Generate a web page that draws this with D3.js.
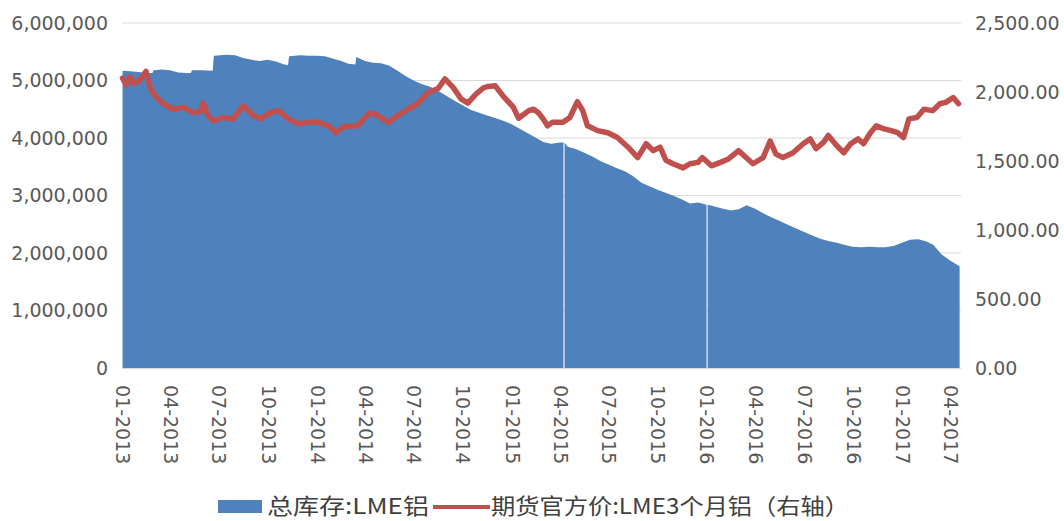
<!DOCTYPE html>
<html>
<head>
<meta charset="utf-8">
<script src="https://cdn.jsdelivr.net/npm/d3@7.9.0/dist/d3.min.js"></script>
<style>
  html, body { margin: 0; padding: 0; background: #fff; }
  svg { display: block; }
  .axis text { font-family: "DejaVu Sans", sans-serif; font-size: 19px; fill: #595959; }
  .legend text { font-family: "Noto Sans CJK SC", sans-serif; font-size: 22px; fill: #404040; }
</style>
</head>
<body>
<div id="chart"></div>
<script>
/* ---------- data ---------- */
// LME aluminium total stock, tonnes (left axis)
const stockSeries = [
  ["2013-01-02", 5170000], ["2013-01-16", 5160000], ["2013-02-01", 5150000], ["2013-02-16", 5130000],
  ["2013-02-27", 5130000], ["2013-03-01", 5180000], ["2013-03-16", 5190000], ["2013-04-01", 5180000],
  ["2013-04-16", 5140000], ["2013-05-01", 5130000], ["2013-05-10", 5130000], ["2013-05-12", 5180000],
  ["2013-06-01", 5180000], ["2013-06-20", 5170000], ["2013-06-22", 5430000], ["2013-07-16", 5450000],
  ["2013-08-01", 5440000], ["2013-08-16", 5390000], ["2013-09-01", 5360000], ["2013-09-16", 5340000],
  ["2013-10-01", 5360000], ["2013-10-16", 5330000], ["2013-11-01", 5280000], ["2013-11-08", 5270000],
  ["2013-11-10", 5420000], ["2013-12-01", 5440000], ["2013-12-16", 5430000], ["2014-01-01", 5430000],
  ["2014-01-16", 5420000], ["2014-02-01", 5380000], ["2014-02-16", 5340000], ["2014-03-01", 5290000],
  ["2014-03-14", 5280000], ["2014-03-16", 5410000], ["2014-04-01", 5340000], ["2014-04-16", 5310000],
  ["2014-05-01", 5300000], ["2014-05-16", 5260000], ["2014-06-01", 5170000], ["2014-06-16", 5080000],
  ["2014-07-01", 5000000], ["2014-07-16", 4940000], ["2014-08-01", 4890000], ["2014-08-16", 4820000],
  ["2014-09-01", 4730000], ["2014-09-16", 4650000], ["2014-10-01", 4570000], ["2014-10-16", 4490000],
  ["2014-11-01", 4440000], ["2014-11-16", 4390000], ["2014-12-01", 4350000], ["2014-12-16", 4300000],
  ["2015-01-01", 4240000], ["2015-01-16", 4160000], ["2015-02-01", 4080000], ["2015-02-16", 4000000],
  ["2015-03-01", 3930000], ["2015-03-16", 3900000], ["2015-04-01", 3920000], ["2015-04-16", 3850000],
  ["2015-05-01", 3810000], ["2015-05-16", 3750000], ["2015-06-01", 3680000], ["2015-06-16", 3600000],
  ["2015-07-01", 3540000], ["2015-07-16", 3480000], ["2015-08-01", 3420000], ["2015-08-16", 3340000],
  ["2015-09-01", 3220000], ["2015-09-16", 3160000], ["2015-10-01", 3100000], ["2015-10-16", 3050000],
  ["2015-11-01", 2990000], ["2015-11-16", 2930000], ["2015-12-01", 2860000], ["2015-12-16", 2880000],
  ["2016-01-01", 2840000], ["2016-01-16", 2810000], ["2016-02-01", 2770000], ["2016-02-16", 2740000],
  ["2016-03-01", 2760000], ["2016-03-16", 2830000], ["2016-04-01", 2770000], ["2016-04-16", 2690000],
  ["2016-05-01", 2620000], ["2016-05-16", 2560000], ["2016-06-01", 2490000], ["2016-06-16", 2430000],
  ["2016-07-01", 2370000], ["2016-07-16", 2310000], ["2016-08-01", 2250000], ["2016-08-16", 2210000],
  ["2016-09-01", 2180000], ["2016-09-16", 2140000], ["2016-10-01", 2110000], ["2016-10-16", 2100000],
  ["2016-11-01", 2110000], ["2016-11-16", 2100000], ["2016-12-01", 2100000], ["2016-12-16", 2120000],
  ["2017-01-01", 2180000], ["2017-01-16", 2230000], ["2017-02-01", 2240000], ["2017-02-16", 2200000],
  ["2017-03-01", 2140000], ["2017-03-16", 1980000], ["2017-04-01", 1870000], ["2017-04-19", 1770000]
];

// days with no stock figure (show as thin white gaps)
const gapDates = ["2015-04-08", "2016-01-01"];

// LME 3-month aluminium official price, USD/t (right axis)
const priceSeries = [
  ["2013-01-02", 2100], ["2013-01-09", 2050], ["2013-01-16", 2110], ["2013-01-24", 2060],
  ["2013-02-02", 2080], ["2013-02-15", 2150], ["2013-02-22", 2040], ["2013-03-01", 1985],
  ["2013-03-18", 1920], ["2013-04-07", 1875], ["2013-04-25", 1890], ["2013-05-14", 1850],
  ["2013-05-28", 1860], ["2013-06-02", 1920], ["2013-06-11", 1830], ["2013-06-21", 1790],
  ["2013-07-09", 1815], ["2013-07-28", 1805], ["2013-08-16", 1900], ["2013-09-04", 1830],
  ["2013-09-17", 1805], ["2013-10-06", 1850], ["2013-10-21", 1865], ["2013-11-09", 1805],
  ["2013-11-28", 1770], ["2013-12-16", 1780], ["2014-01-04", 1780], ["2014-01-23", 1755],
  ["2014-02-06", 1705], ["2014-02-20", 1750], ["2014-03-18", 1755], ["2014-04-10", 1850],
  ["2014-04-25", 1830], ["2014-05-14", 1780], ["2014-06-02", 1830], ["2014-06-21", 1875],
  ["2014-07-09", 1915], ["2014-07-28", 1995], ["2014-08-16", 2025], ["2014-08-29", 2095],
  ["2014-09-14", 2030], ["2014-09-28", 1950], ["2014-10-11", 1920], ["2014-10-26", 1985],
  ["2014-11-09", 2030], ["2014-11-18", 2040], ["2014-12-01", 2045], ["2014-12-16", 1970],
  ["2015-01-04", 1890], ["2015-01-14", 1810], ["2015-02-02", 1865], ["2015-02-11", 1875],
  ["2015-02-20", 1850], ["2015-03-01", 1805], ["2015-03-09", 1755], ["2015-03-18", 1780],
  ["2015-04-07", 1780], ["2015-04-20", 1815], ["2015-05-04", 1930], ["2015-05-14", 1865],
  ["2015-05-23", 1755], ["2015-06-11", 1720], ["2015-06-30", 1705], ["2015-07-18", 1670],
  ["2015-08-07", 1600], ["2015-08-25", 1525], ["2015-09-10", 1625], ["2015-09-23", 1575],
  ["2015-10-06", 1600], ["2015-10-17", 1505], ["2015-10-30", 1480], ["2015-11-18", 1450],
  ["2015-12-01", 1480], ["2015-12-16", 1490], ["2015-12-24", 1525], ["2016-01-10", 1465],
  ["2016-01-27", 1490], ["2016-02-11", 1515], ["2016-03-01", 1575], ["2016-03-15", 1525],
  ["2016-03-28", 1480], ["2016-04-16", 1525], ["2016-04-29", 1645], ["2016-05-10", 1550],
  ["2016-05-23", 1525], ["2016-06-11", 1560], ["2016-06-30", 1625], ["2016-07-13", 1660],
  ["2016-07-24", 1590], ["2016-08-07", 1635], ["2016-08-16", 1685], ["2016-09-01", 1610],
  ["2016-09-14", 1560], ["2016-09-27", 1625], ["2016-10-11", 1660], ["2016-10-21", 1625],
  ["2016-11-03", 1705], ["2016-11-14", 1755], ["2016-11-27", 1735], ["2016-12-12", 1720],
  ["2016-12-24", 1705], ["2017-01-04", 1670], ["2017-01-14", 1805], ["2017-01-29", 1815],
  ["2017-02-11", 1875], ["2017-02-28", 1865], ["2017-03-13", 1915], ["2017-03-24", 1925],
  ["2017-04-07", 1960], ["2017-04-17", 1915]
];

// quarterly category labels on the x axis
const tickMonths = [
  "2013-01-01", "2013-04-01", "2013-07-01", "2013-10-01",
  "2014-01-01", "2014-04-01", "2014-07-01", "2014-10-01",
  "2015-01-01", "2015-04-01", "2015-07-01", "2015-10-01",
  "2016-01-01", "2016-04-01", "2016-07-01", "2016-10-01",
  "2017-01-01", "2017-04-01"
];
const leftTicks = [0, 1000000, 2000000, 3000000, 4000000, 5000000, 6000000];
const rightTicks = [0, 500, 1000, 1500, 2000, 2500];
const seriesNames = ["总库存:LME铝", "期货官方价:LME3个月铝（右轴）"];

/* ---------- layout ---------- */
const W = 1064, H = 521;
const plot = { left: 122, right: 961, top: 23, bottom: 368 };
const blue = "#4F81BD", red = "#C0504D";

const parse = d3.timeParse("%Y-%m-%d");
const stock = stockSeries.map(([d, v]) => ({ date: parse(d), v, k: -1 }));
const price = priceSeries.map(([d, v]) => ({ date: parse(d), v }));

// put the gaps into the stock series: drop to zero for two days
gapDates.forEach(g => {
  const d0 = parse(g), d1 = d3.timeDay.offset(d0, 2);
  const prev = stock.filter(p => p.date <= d0 && p.k === -1).pop();
  stock.push({ date: d0, v: prev.v, k: 0 }, { date: d0, v: 0, k: 1 },
             { date: d1, v: 0, k: 2 }, { date: d1, v: prev.v, k: 3 });
});
stock.sort((a, b) => (a.date - b.date) || (a.k - b.k));

const x = d3.scaleTime()
  .domain([parse("2013-01-01"), parse("2017-04-01")])
  .range([plot.left, 950]);
const yL = d3.scaleLinear().domain([0, 6000000]).range([plot.bottom, plot.top]);
const yR = d3.scaleLinear().domain([0, 2500]).range([plot.bottom, plot.top]);

const svg = d3.select("#chart").append("svg")
  .attr("width", W).attr("height", H);

/* gridlines */
svg.append("g")
  .selectAll("line")
  .data(leftTicks.slice(1))
  .join("line")
  .attr("x1", plot.left).attr("x2", plot.right)
  .attr("y1", d => yL(d)).attr("y2", d => yL(d))
  .attr("stroke", "#d9d9d9").attr("stroke-width", 1.2);

/* stock area */
svg.append("path")
  .datum(stock)
  .attr("fill", blue)
  .attr("d", d3.area()
    .x(d => x(d.date))
    .y0(yL(0))
    .y1(d => yL(d.v)));

/* bottom axis line */
svg.append("line")
  .attr("x1", plot.left).attr("x2", plot.right)
  .attr("y1", plot.bottom + 0.5).attr("y2", plot.bottom + 0.5)
  .attr("stroke", "#d9d9d9");

/* price line */
svg.append("path")
  .datum(price)
  .attr("fill", "none")
  .attr("stroke", red)
  .attr("stroke-width", 5.5)
  .attr("stroke-linejoin", "round")
  .attr("stroke-linecap", "round")
  .attr("d", d3.line().x(d => x(d.date)).y(d => yR(d.v)));

/* axes */
const gl = svg.append("g").attr("class", "axis")
  .attr("transform", `translate(${plot.left},0)`)
  .call(d3.axisLeft(yL).tickValues(leftTicks).tickFormat(d3.format(",")).tickSize(0).tickPadding(14));
gl.select(".domain").remove();

const gr = svg.append("g").attr("class", "axis")
  .attr("transform", `translate(${plot.right},0)`)
  .call(d3.axisRight(yR).tickValues(rightTicks).tickFormat(d3.format(",.2f")).tickSize(0).tickPadding(14));
gr.select(".domain").remove();

const gx = svg.append("g").attr("class", "axis")
  .attr("transform", `translate(0,${plot.bottom})`)
  .call(d3.axisBottom(x).tickValues(tickMonths.map(parse)).tickFormat(d3.timeFormat("%m-%Y")).tickSize(0));
gx.select(".domain").remove();
gx.selectAll("text")
  .attr("transform", "rotate(90)")
  .attr("x", 17).attr("y", 0).attr("dy", "0.35em")
  .attr("text-anchor", "start");

/* legend */
const lg = svg.append("g").attr("class", "legend");
lg.append("rect").attr("x", 218).attr("y", 500).attr("width", 44).attr("height", 13).attr("fill", blue);
lg.append("text").attr("x", 267).attr("y", 514)
  .attr("textLength", 162).attr("lengthAdjust", "spacingAndGlyphs").text(seriesNames[0]);
lg.append("line").attr("x1", 433).attr("x2", 490).attr("y1", 507).attr("y2", 507)
  .attr("stroke", red).attr("stroke-width", 4);
lg.append("text").attr("x", 491).attr("y", 514)
  .attr("textLength", 358).attr("lengthAdjust", "spacingAndGlyphs").text(seriesNames[1]);
</script>
</body>
</html>
